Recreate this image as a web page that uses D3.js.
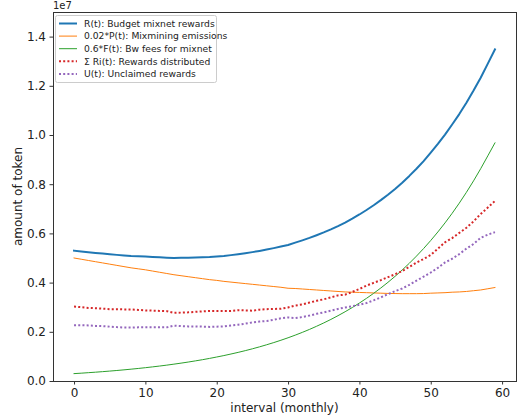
<!DOCTYPE html>
<html><head><meta charset="utf-8">
<script src="https://cdn.jsdelivr.net/npm/d3@7"></script>
<style>body{margin:0;background:#fff}svg{display:block;font-family:"DejaVu Sans",sans-serif}</style>
</head><body><svg id="c" width="518" height="420"></svg>
<script>
const months = d3.range(0, 60);
// values in millions of tokens
const budgetR = [5.300,5.268,5.238,5.208,5.180,5.153,5.127,5.103,5.081,5.070,5.061,5.044,5.028,5.015,5.005,5.006,5.010,5.017,5.026,5.039,5.065,5.084,5.117,5.153,5.194,5.239,5.288,5.343,5.402,5.467,5.527,5.624,5.717,5.817,5.925,6.040,6.163,6.295,6.436,6.597,6.769,6.951,7.145,7.351,7.571,7.809,8.063,8.337,8.627,8.940,9.282,9.639,10.017,10.427,10.851,11.310,11.806,12.330,12.903,13.48];
const mixminingP = [5.00,4.95,4.90,4.85,4.80,4.75,4.70,4.65,4.60,4.56,4.52,4.47,4.42,4.37,4.32,4.28,4.24,4.20,4.16,4.12,4.09,4.05,4.02,3.99,3.96,3.93,3.90,3.87,3.84,3.81,3.77,3.76,3.74,3.72,3.70,3.68,3.66,3.64,3.62,3.61,3.60,3.59,3.58,3.57,3.56,3.555,3.55,3.55,3.55,3.555,3.57,3.58,3.59,3.61,3.62,3.64,3.67,3.70,3.75,3.80];
const bwFeesF = [0.300,0.318,0.338,0.358,0.380,0.403,0.427,0.453,0.481,0.510,0.541,0.574,0.608,0.645,0.685,0.726,0.770,0.817,0.866,0.919,0.975,1.034,1.097,1.163,1.234,1.309,1.388,1.473,1.562,1.657,1.757,1.864,1.977,2.097,2.225,2.360,2.503,2.655,2.816,2.987,3.169,3.361,3.565,3.781,4.011,4.254,4.513,4.787,5.077,5.385,5.712,6.059,6.427,6.817,7.231,7.670,8.136,8.630,9.153,9.680];
const distributed = [3.03,3.00,2.97,2.96,2.94,2.92,2.92,2.91,2.91,2.89,2.87,2.86,2.85,2.84,2.77,2.78,2.79,2.81,2.83,2.85,2.85,2.85,2.85,2.88,2.87,2.86,2.90,2.92,2.93,2.94,2.99,3.07,3.11,3.19,3.26,3.32,3.40,3.48,3.51,3.62,3.74,3.88,3.99,4.10,4.22,4.34,4.47,4.64,4.81,4.96,5.12,5.38,5.64,5.81,6.02,6.23,6.49,6.79,7.05,7.32];
const unclaimed = [2.27,2.27,2.26,2.24,2.23,2.21,2.19,2.17,2.17,2.18,2.18,2.18,2.18,2.18,2.25,2.23,2.22,2.22,2.21,2.20,2.21,2.22,2.26,2.29,2.33,2.38,2.42,2.44,2.49,2.55,2.58,2.56,2.60,2.66,2.73,2.79,2.86,2.93,2.99,3.04,3.10,3.17,3.28,3.40,3.53,3.65,3.76,3.91,4.08,4.24,4.41,4.60,4.82,4.97,5.16,5.38,5.57,5.82,5.95,6.05];
const xTicks = [0,10,20,30,40,50,60];
const yTicks = [0,0.2,0.4,0.6,0.8,1.0,1.2,1.4];
const seriesNames = ["R(t): Budget mixnet rewards","0.02*P(t): Mixmining emissions","0.6*F(t): Bw fees for mixnet","\u03a3 Ri(t): Rewards distributed","U(t): Unclaimed rewards"];

const series = [
  {name: seriesNames[0], vals: budgetR, color: "#1f77b4", w: 2, dash: null},
  {name: seriesNames[1], vals: mixminingP, color: "#ff7f0e", w: 1, dash: null},
  {name: seriesNames[2], vals: bwFeesF, color: "#2ca02c", w: 1, dash: null},
  {name: seriesNames[3], vals: distributed, color: "#d62728", w: 2, dash: "2,2.2"},
  {name: seriesNames[4], vals: unclaimed, color: "#9467bd", w: 2, dash: "2,2.2"}
];

const L = 53, R = 516, T = 12, B = 381;
const svg = d3.select("#c");
const x = d3.scaleLinear().domain([-2.95, 61.95]).range([L, R]);
const y = d3.scaleLinear().domain([0, 15]).range([B, T]); // millions; 1.5e7

const plot = svg.append("g");
plot.append("clipPath").attr("id","clip").append("rect").attr("x",L).attr("y",T).attr("width",R-L).attr("height",B-T);

const line = d3.line().x((d,i)=>x(months[i])).y(d=>y(d));
const lg = plot.append("g").attr("clip-path","url(#clip)");
series.forEach(s=>{
  lg.append("path").attr("d", line(s.vals)).attr("fill","none")
    .attr("stroke", s.color).attr("stroke-width", s.w)
    .attr("stroke-dasharray", s.dash).attr("stroke-linecap", s.dash ? "butt" : "square")
    .attr("stroke-linejoin","round");
});

// axes
const xAxis = d3.axisBottom(x).tickValues(xTicks).tickSize(3.5).tickPadding(3.5).tickFormat(d3.format("d"));
const yAxis = d3.axisLeft(y).tickValues(yTicks.map(v=>v*10)).tickSize(3.5).tickPadding(3.5).tickFormat(d=>(d/10).toFixed(1));
const gx = svg.append("g").attr("transform",`translate(0,${B})`).call(xAxis);
const gy = svg.append("g").attr("transform",`translate(${L},0)`).call(yAxis);
[gx,gy].forEach(g=>{
  g.select(".domain").remove();
  g.selectAll("text").attr("font-size",12).attr("fill","#222").attr("font-family","DejaVu Sans");
  g.selectAll("line").attr("stroke","#333");
});

// frame
svg.append("rect").attr("x",L).attr("y",T).attr("width",R-L).attr("height",B-T)
  .attr("fill","none").attr("stroke","#333").attr("stroke-width",1).attr("shape-rendering","crispEdges");

// offset text
svg.append("text").attr("x",L).attr("y",9).attr("font-size",10).attr("fill","#222").text("1e7");

// axis labels
svg.append("text").attr("x",(L+R)/2).attr("y",412).attr("text-anchor","middle").attr("font-size",12).attr("fill","#222").text("interval (monthly)");
svg.append("text").attr("transform",`translate(22,${(T+B)/2}) rotate(-90)`).attr("text-anchor","middle").attr("font-size",12).attr("fill","#222").text("amount of token");

// legend
const leg = svg.append("g");
leg.append("rect").attr("x",55.5).attr("y",15.5).attr("width",161).attr("height",67).attr("rx",2)
  .attr("fill","#fff").attr("fill-opacity",0.8).attr("stroke","#ccc").attr("stroke-width",1);
series.forEach((s,i)=>{
  const yy = 23.5 + i*12.6;
  leg.append("line").attr("x1",59).attr("x2",77).attr("y1",yy).attr("y2",yy)
    .attr("stroke",s.color).attr("stroke-width",s.w).attr("stroke-dasharray",s.dash);
  leg.append("text").attr("x",84).attr("y",yy+3.3).attr("font-size",9.2).attr("fill","#222").text(s.name);
});
</script></body></html>
